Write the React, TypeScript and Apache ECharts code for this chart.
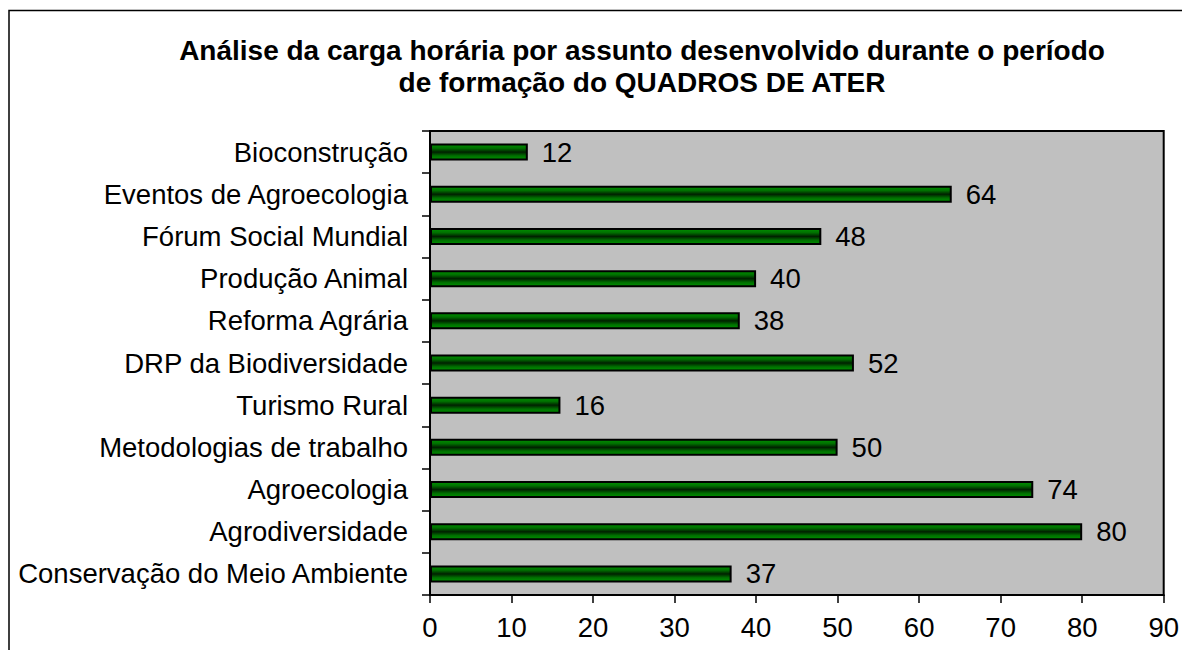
import React, { useEffect, useRef } from "react";
import * as echarts from "echarts";

const titleText = "Análise da carga horária por assunto desenvolvido durante o período\nde formação do QUADROS DE ATER";
const categories = [
  "Bioconstrução",
  "Eventos de Agroecologia",
  "Fórum Social Mundial",
  "Produção Animal",
  "Reforma Agrária",
  "DRP da Biodiversidade",
  "Turismo Rural",
  "Metodologias de trabalho",
  "Agroecologia",
  "Agrodiversidade",
  "Conservação do Meio Ambiente",
];
const hours = [12, 64, 48, 40, 38, 52, 16, 50, 74, 80, 37];
const xTicks = [0, 10, 20, 30, 40, 50, 60, 70, 80, 90];

export default function App() {
  const ref = useRef<HTMLDivElement>(null);
  useEffect(() => {
    if (!ref.current) return;
    const chart = echarts.init(ref.current, null, { renderer: "svg" });
    const font = "Arial, 'Liberation Sans', sans-serif";
    chart.setOption({
      animation: false,
      backgroundColor: "#ffffff",
      title: {
        text: titleText,
        left: 637,
        textAlign: "center",
        top: 29,
        textStyle: {
          fontFamily: font,
          fontSize: 28,
          fontWeight: "bold",
          color: "#000",
          lineHeight: 32,
        },
      },
      graphic: [
        {
          type: "rect",
          shape: { x: 9, y: 10.5, width: 1300, height: 800 },
          style: { fill: "none", stroke: "#000", lineWidth: 1.5 },
          silent: true,
          z: 100,
        },
      ],
      grid: {
        left: 430,
        top: 131,
        width: 734,
        height: 464,
        show: true,
        backgroundColor: "#c0c0c0",
        borderColor: "#000",
        borderWidth: 2,
      },
      xAxis: {
        type: "value",
        min: xTicks[0],
        max: xTicks[xTicks.length - 1],
        interval: 10,
        axisLine: { show: true, lineStyle: { color: "#000", width: 2 } },
        axisTick: { show: true, length: 8, lineStyle: { color: "#000", width: 1.5 } },
        splitLine: { show: false },
        axisLabel: {
          margin: 18,
          fontFamily: font,
          fontSize: 27.5,
          color: "#000",
        },
      },
      yAxis: {
        type: "category",
        data: categories,
        inverse: true,
        axisLine: { show: true, lineStyle: { color: "#000", width: 2 } },
        axisTick: { show: true, length: 8, alignWithLabel: false, lineStyle: { color: "#000", width: 1.5 } },
        axisLabel: {
          margin: 22,
          fontFamily: font,
          fontSize: 27.5,
          color: "#000",
        },
      },
      series: [
        {
          type: "bar",
          data: hours,
          barWidth: 17,
          itemStyle: {
            color: new echarts.graphic.LinearGradient(0, 0, 0, 1, [
              { offset: 0, color: "#009000" },
              { offset: 0.25, color: "#007000" },
              { offset: 0.5, color: "#002000" },
              { offset: 0.75, color: "#007000" },
              { offset: 1, color: "#009000" },
            ]),
            borderColor: "#000",
            borderWidth: 2,
          },
          label: {
            show: true,
            position: "right",
            distance: 14,
            fontFamily: font,
            fontSize: 27.5,
            color: "#000",
          },
        },
      ],
    });
    return () => chart.dispose();
  }, []);
  return (
    <div
      ref={ref}
      style={{ position: "absolute", left: 0, top: 0, width: 1182, height: 650 }}
    />
  );
}
